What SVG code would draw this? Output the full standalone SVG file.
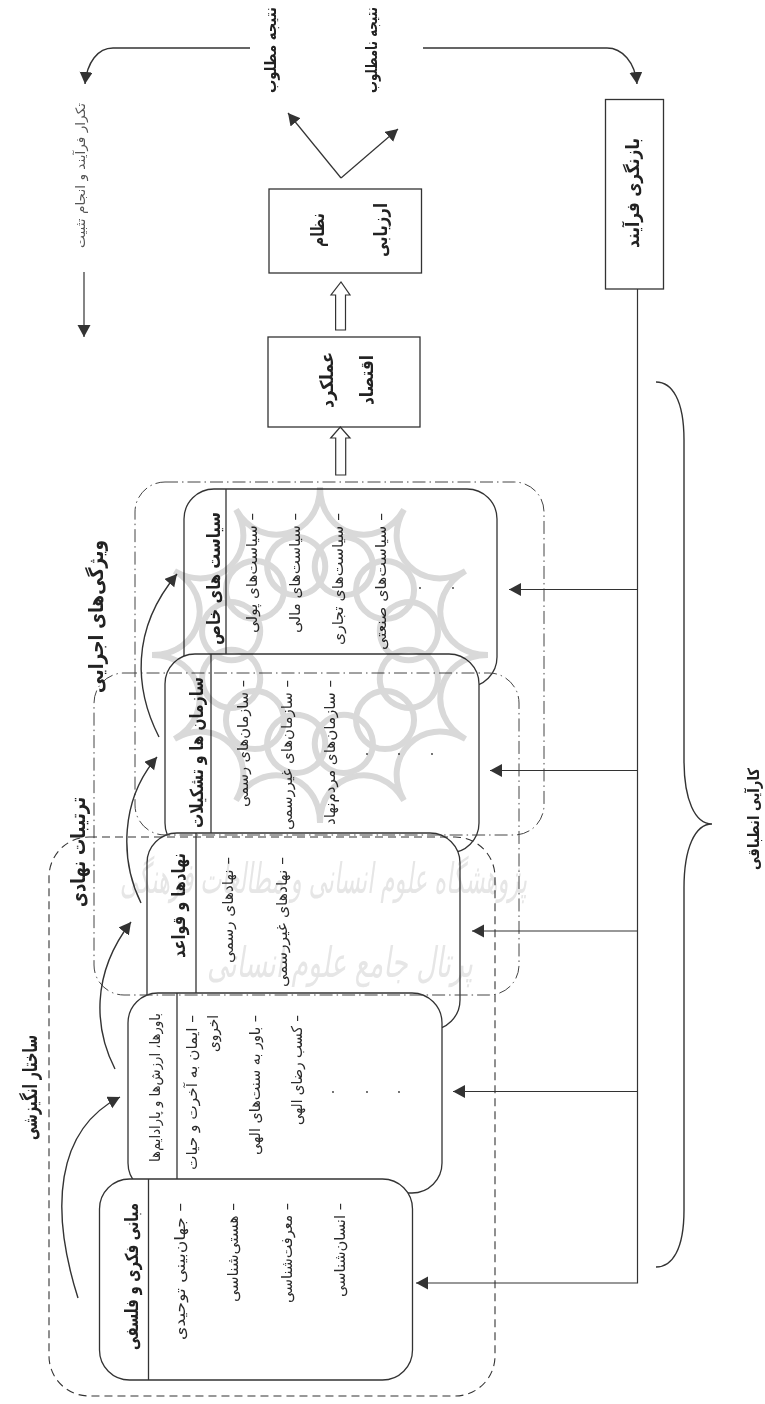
<svg xmlns="http://www.w3.org/2000/svg" xmlns:xlink="http://www.w3.org/1999/xlink" width="765" height="1404" viewBox="0 0 765 1404">
<style>
text{font-family:"DejaVu Sans",sans-serif;direction:rtl;text-anchor:start;fill:#2b2b2b;font-size:15px}
.h{font-weight:bold;font-size:18px;fill:#222}
.l{font-weight:bold;font-size:20px;fill:#222}
.s{font-weight:bold;font-size:13px;fill:#222}
.t{font-size:13px;fill:#555}
.box{fill:#fff;stroke:#333;stroke-width:1.3}
.sq{fill:#fff;stroke:#333;stroke-width:1.3}
.div{stroke:#333;stroke-width:1.3;fill:none}
.line{stroke:#333;stroke-width:1.2;fill:none}
.curve{stroke:#333;stroke-width:1.4;fill:none}
.hollow{fill:#fff;stroke:#333;stroke-width:1.2}
.dd{fill:none;stroke:#444;stroke-width:1;stroke-dasharray:13 4 1.5 4}
.dash{fill:none;stroke:#333;stroke-width:1.1;stroke-dasharray:8 5}
.dot{fill:#333}
.wm{fill:none;stroke:#d9d9d9;stroke-width:6;stroke-miterlimit:30}
.wt{font-size:30px;fill:#e6e6e6;font-style:italic}
</style>
<defs>
<marker id="ah" markerUnits="userSpaceOnUse" markerWidth="13" markerHeight="14" refX="12" refY="6.5" orient="auto"><path d="M0 0L12 6.5L0 13Z" fill="#333"/></marker>
<circle id="wc" cx="320" cy="563" r="29" class="wm"/>
</defs>

<g id="box-policies">
<rect class="box" x="184" y="489" width="313" height="198" rx="30"/>
<path class="div" d="M226 489V655"/>
<text class="h" transform="translate(220 512) rotate(-90)" textLength="133" lengthAdjust="spacingAndGlyphs">سیاست های خاص</text>
<text transform="translate(257 513) rotate(-90)" textLength="120" lengthAdjust="spacingAndGlyphs">– سیاست‌های پولی</text>
<text transform="translate(300 513) rotate(-90)" textLength="120" lengthAdjust="spacingAndGlyphs">– سیاست‌های مالی</text>
<text transform="translate(343 513) rotate(-90)" textLength="132" lengthAdjust="spacingAndGlyphs">– سیاست‌های تجاری</text>
<text transform="translate(386 513) rotate(-90)" textLength="137" lengthAdjust="spacingAndGlyphs">– سیاست‌های صنعتی</text>
<circle class="dot" cx="420" cy="588" r="0.9"/><circle class="dot" cx="453" cy="588" r="0.9"/>
</g>

<g id="box-organizations">
<rect class="box" x="165" y="654" width="314" height="199" rx="30"/>
<path class="div" d="M211 654V833"/>
<text class="h" transform="translate(203 677) rotate(-90)" textLength="151" lengthAdjust="spacingAndGlyphs">سازمان ها و تشکیلات</text>
<text transform="translate(248 680) rotate(-90)" textLength="127" lengthAdjust="spacingAndGlyphs">– سازمان‌های رسمی</text>
<text transform="translate(292 680) rotate(-90)" textLength="150" lengthAdjust="spacingAndGlyphs">– سازمان‌های غیررسمی</text>
<text transform="translate(335 680) rotate(-90)" textLength="145" lengthAdjust="spacingAndGlyphs">– سازمان‌های مردم‌نهاد</text>
<circle class="dot" cx="367" cy="754" r="0.9"/><circle class="dot" cx="399" cy="754" r="0.9"/><circle class="dot" cx="432" cy="754" r="0.9"/>
</g>

<g id="box-institutions">
<rect class="box" x="147" y="833" width="313" height="197" rx="30"/>
<path class="div" d="M196 833V993"/>
<text class="h" transform="translate(185 853) rotate(-90)" textLength="105" lengthAdjust="spacingAndGlyphs">نهادها و قواعد</text>
<text transform="translate(233 857) rotate(-90)" textLength="106" lengthAdjust="spacingAndGlyphs">– نهادهای رسمی</text>
<text transform="translate(287 857) rotate(-90)" textLength="130" lengthAdjust="spacingAndGlyphs">– نهادهای غیررسمی</text>
</g>

<g id="box-beliefs">
<rect class="box" x="128" y="993" width="314" height="200" rx="30"/>
<path class="div" d="M177 993V1179"/>
<text transform="translate(160 1013) rotate(-90)" textLength="149" lengthAdjust="spacingAndGlyphs" style="font-size:14px">باورها، ارزش‌ها و پارادایم‌ها</text>
<text transform="translate(197 1015) rotate(-90)" textLength="155" lengthAdjust="spacingAndGlyphs">– ایمان به آخرت و حیات</text>
<text transform="translate(218 1015) rotate(-90)" textLength="37" lengthAdjust="spacingAndGlyphs">اخروی</text>
<text transform="translate(260 1015) rotate(-90)" textLength="140" lengthAdjust="spacingAndGlyphs">– باور به سنت‌های الهی</text>
<text transform="translate(302 1015) rotate(-90)" textLength="110" lengthAdjust="spacingAndGlyphs">– کسب رضای الهی</text>
<circle class="dot" cx="333" cy="1092" r="0.9"/><circle class="dot" cx="367" cy="1092" r="0.9"/><circle class="dot" cx="399" cy="1092" r="0.9"/>
</g>

<g id="box-foundations">
<rect class="box" x="99.500" y="1179" width="313" height="201" rx="30"/>
<path class="div" d="M148.500 1179V1380"/>
<text class="h" transform="translate(138 1203) rotate(-90)" textLength="147" lengthAdjust="spacingAndGlyphs">مبانی فکری و فلسفی</text>
<text transform="translate(185 1203) rotate(-90)" textLength="137" lengthAdjust="spacingAndGlyphs">– جهان‌بینی توحیدی</text>
<text transform="translate(238 1203) rotate(-90)" textLength="99" lengthAdjust="spacingAndGlyphs">– هستی‌شناسی</text>
<text transform="translate(292 1203) rotate(-90)" textLength="100" lengthAdjust="spacingAndGlyphs">– معرفت‌شناسی</text>
<text transform="translate(345 1203) rotate(-90)" textLength="94" lengthAdjust="spacingAndGlyphs">– انسان‌شناسی</text>
</g>

<g id="regions">
<rect class="dd" x="135" y="482" width="409" height="353" rx="30"/>
<rect class="dd" x="94" y="673" width="425" height="322" rx="30"/>
<rect class="dash" x="49" y="837" width="446" height="559" rx="40"/>
</g>

<g id="box-economy">
<rect class="sq" x="268" y="337" width="152" height="90"/>
<text class="h" transform="translate(333 352) rotate(-90)" textLength="56" lengthAdjust="spacingAndGlyphs">عملکرد</text>
<text class="h" transform="translate(373 355) rotate(-90)" textLength="50" lengthAdjust="spacingAndGlyphs">اقتصاد</text>
</g>
<g id="box-evaluation">
<rect class="sq" x="269" y="189" width="152.500" height="84"/>
<text class="h" transform="translate(324 213) rotate(-90)" textLength="34" lengthAdjust="spacingAndGlyphs">نظام</text>
<text class="h" transform="translate(387 203) rotate(-90)" textLength="54" lengthAdjust="spacingAndGlyphs">ارزیابی</text>
</g>
<g id="box-feedback">
<rect class="sq" x="605.500" y="99.500" width="58" height="189.500"/>
<text class="h" transform="translate(639 138) rotate(-90)" textLength="110" lengthAdjust="spacingAndGlyphs">بازنگری فرآیند</text>
</g>
<g id="result-good"><text class="s" transform="translate(276 7) rotate(-90) scale(1 1.2)" textLength="86" lengthAdjust="spacingAndGlyphs">نتیجه مطلوب</text></g>
<g id="result-bad"><text class="s" transform="translate(377 7) rotate(-90) scale(1 1.2)" textLength="86" lengthAdjust="spacingAndGlyphs">نتیجه نامطلوب</text></g>
<g id="label-repeat"><text class="t" transform="translate(85 103) rotate(-90)" textLength="145" lengthAdjust="spacingAndGlyphs">تکرار فرآیند و انجام تثبیت</text></g>
<g id="label-motivation"><text class="l" transform="translate(37 1035) rotate(-90)" textLength="105" lengthAdjust="spacingAndGlyphs">ساختار انگیزشی</text></g>
<g id="label-institutional"><text class="l" transform="translate(85 797) rotate(-90)" textLength="110" lengthAdjust="spacingAndGlyphs">ترتیبات نهادی</text></g>
<g id="label-executive"><text class="l" transform="translate(103 540) rotate(-90)" textLength="153" lengthAdjust="spacingAndGlyphs">ویژگی‌های اجرایی</text></g>
<g id="label-efficiency"><text class="s" transform="translate(759 768) rotate(-90) scale(1 1.2)" textLength="102" lengthAdjust="spacingAndGlyphs">کارآیی انطباقی</text></g>

<g id="connectors">
<path class="curve" marker-end="url(#ah)" d="M78 1298C50 1210 55 1130 120 1097"/>
<path class="curve" marker-end="url(#ah)" d="M115 1069C95 1030 90 975 131 922"/>
<path class="curve" marker-end="url(#ah)" d="M141 903C120 860 120 800 157 757"/>
<path class="curve" marker-end="url(#ah)" d="M159 737C135 690 130 630 177 574"/>
<path class="line" d="M637.500 289V1283H416" marker-end="url(#ah)"/>
<path class="line" marker-end="url(#ah)" d="M637.500 589.500H509"/>
<path class="line" marker-end="url(#ah)" d="M637.500 770.500H490"/>
<path class="line" marker-end="url(#ah)" d="M637.500 931H472"/>
<path class="line" marker-end="url(#ah)" d="M637.500 1091.500H453"/>
<path class="hollow" d="M335.700 475V438H330.700L340.300 427L350 438H345.700V475Z"/>
<path class="hollow" d="M335.600 330V295H331L341 282L350 295H345.500V330Z"/>
<path class="line" marker-end="url(#ah)" d="M341 178L288 113"/>
<path class="line" marker-end="url(#ah)" d="M341 178L398 129"/>
<path class="curve" marker-end="url(#ah)" d="M250 48H113C98 48 87 62 85 84"/>
<path class="curve" marker-end="url(#ah)" d="M423 48H607C622 48 635 62 637 84"/>
<path class="line" marker-end="url(#ah)" d="M84 272V337"/>
<path class="curve" d="M656 382C672 382 684 400 684 440V760C684 800 695 824 712 824C695 824 684 848 684 888V1210C684 1250 672 1267 656 1267"/>
</g>

<g id="watermark" style="mix-blend-mode:multiply">
<path class="wm" d="M320 487C320 537 379 552.800 404 509.500C379 552.800 422.200 596 465.500 571C422.200 596 438 655 488 655C438 655 422.200 714 465.500 739C422.200 714 379 757.200 404 800.500C379 757.200 320 773 320 823C320 773 261 757.200 236 800.500C261 757.200 217.800 714 174.500 739C217.800 714 202 655 152 655C202 655 217.800 596 174.500 571C217.800 596 261 552.800 236 509.500C261 552.800 320 537 320 487Z"/>
<use xlink:href="#wc" transform="rotate(-15 320 655)"/><use xlink:href="#wc" transform="rotate(15 320 655)"/><use xlink:href="#wc" transform="rotate(45 320 655)"/><use xlink:href="#wc" transform="rotate(75 320 655)"/><use xlink:href="#wc" transform="rotate(105 320 655)"/><use xlink:href="#wc" transform="rotate(135 320 655)"/><use xlink:href="#wc" transform="rotate(165 320 655)"/><use xlink:href="#wc" transform="rotate(195 320 655)"/><use xlink:href="#wc" transform="rotate(225 320 655)"/><use xlink:href="#wc" transform="rotate(255 320 655)"/><use xlink:href="#wc" transform="rotate(285 320 655)"/><use xlink:href="#wc" transform="rotate(315 320 655)"/>
<text class="wt" transform="translate(527 893) scale(1 1.4)" textLength="407" lengthAdjust="spacingAndGlyphs">پژوهشگاه علوم انسانی و مطالعات فرهنگی</text>
<text class="wt" transform="translate(473 977) scale(1 1.4)" textLength="266" lengthAdjust="spacingAndGlyphs">پرتال جامع علوم انسانی</text>
</g>
</svg>
